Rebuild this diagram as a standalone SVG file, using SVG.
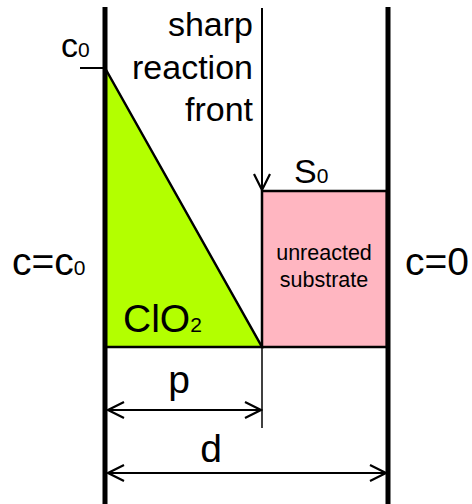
<svg xmlns="http://www.w3.org/2000/svg" width="472" height="504" viewBox="0 0 472 504">
<defs>
<style>
text{font-family:"Liberation Sans",Arial,sans-serif;fill:#000}
.big{font-size:34px}
.large{font-size:39px}
.sub{font-size:21px}
.small{font-size:21.5px}
.wall{stroke:#000;stroke-width:5;fill:none}
.thin{stroke:#000;stroke-width:2;fill:none}
</style>
<marker id="ah" viewBox="0 0 20 20" refX="18" refY="10" markerWidth="20" markerHeight="20" markerUnits="userSpaceOnUse" orient="auto-start-reverse">
<path d="M2,2 L18,10 L2,18" fill="none" stroke="#000" stroke-width="2.2"/>
</marker>
</defs>
<rect width="472" height="504" fill="#fff"/>
<g id="clo2">
<polygon points="105,68 262,347 105,347" fill="#b3ff00" stroke="#000" stroke-width="2.5"/>
<text class="large" x="123" y="332">ClO<tspan class="sub">2</tspan></text>
</g>
<g id="substrate">
<rect x="262" y="191" width="125" height="156" fill="#ffb6c1" stroke="#000" stroke-width="2.5"/>
<text class="small" x="324" y="260" text-anchor="middle">unreacted</text>
<text class="small" x="324" y="287" text-anchor="middle">substrate</text>
</g>
<g id="walls">
<line class="wall" x1="105" y1="7" x2="105" y2="504"/>
<line class="wall" x1="388" y1="7" x2="388" y2="504"/>
<line class="thin" x1="105" y1="347" x2="388" y2="347" stroke-width="3"/>
</g>
<g id="labels">
<line class="thin" x1="80" y1="68" x2="105" y2="68"/>
<text class="big" x="61" y="57">c<tspan class="sub">0</tspan></text>
<text class="big" x="294" y="183">S<tspan class="sub">0</tspan></text>
<text class="large" x="12" y="275">c=c<tspan class="sub">0</tspan></text>
<text class="large" x="405" y="275">c=0</text>
<text class="big" x="253" y="36" text-anchor="end">sharp</text>
<text class="big" x="253" y="79" text-anchor="end">reaction</text>
<text class="big" x="253" y="121" text-anchor="end">front</text>
<text class="large" x="179" y="393" text-anchor="middle">p</text>
<text class="large" x="211" y="462" text-anchor="middle">d</text>
</g>
<g id="connectors">
<line class="thin" x1="262" y1="8" x2="262" y2="190" marker-end="url(#ah)"/>
<line x1="262" y1="347" x2="262" y2="428" stroke="#000" stroke-width="1.5"/>
<line class="thin" x1="108" y1="410" x2="261" y2="410" marker-start="url(#ah)" marker-end="url(#ah)"/>
<line class="thin" x1="108" y1="473" x2="386" y2="473" marker-start="url(#ah)" marker-end="url(#ah)"/>
</g>
</svg>
